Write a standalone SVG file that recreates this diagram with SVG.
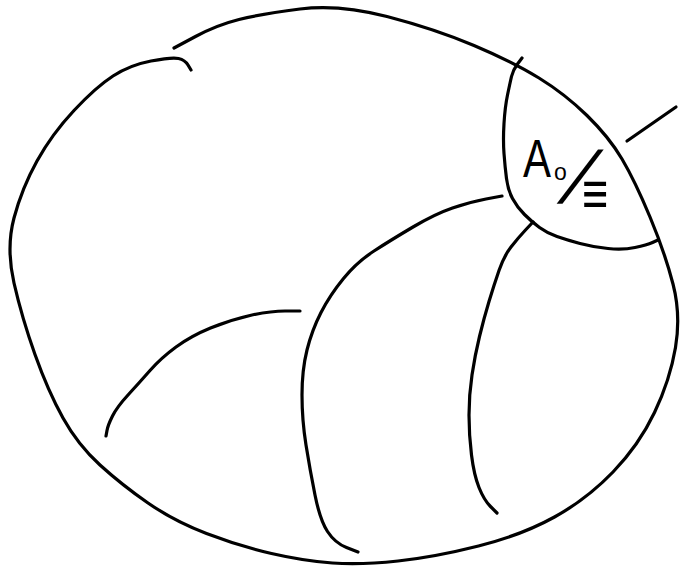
<svg xmlns="http://www.w3.org/2000/svg" width="682" height="567" viewBox="0 0 682 567">
<style>
.s{fill:none;stroke:#000;stroke-width:3.2;stroke-linecap:round;stroke-linejoin:round}
.t{fill:#000;font-family:"Liberation Sans",Arial,sans-serif}
</style>
<rect width="682" height="567" fill="#fff"/>
<g id="outline">
<path class="s" d="M191,70 L188,65 Q185,60 178.5,58.5 Q172,57 151,61 Q130,65 113,76 Q96,87 74,110.5 Q52,134 37,161 Q22,188 14,218 Q6,248 14,283 Q22,318 35,354.5 Q48,391 63,418 Q78,445 100,465 Q122,485 148,503 Q174,521 206.5,533.5 Q239,546 271.5,553.5 Q304,561 332.5,563 Q361,565 398,561 Q435,557 478.5,546 Q522,535 554.5,517 Q587,499 613,472 Q639,445 654.5,412.5 Q670,380 675.5,347.5 Q681,315 673,284 Q665,253 650,217 Q635,181 622,159 Q609,137 587,115.5 Q565,94 539,78 Q513,62 474,45.5 Q435,29 387,16.5 Q339,4 300,9 Q261,14 239,19.5 Q217,25 195.5,36.5 L174,48"/>
<path class="s" d="M627,141 L676,107"/>
</g>
<g id="lobe">
<path class="s" d="M522,58 L517.5,64 Q513,70 511.5,76.5 Q510,83 507.5,95 Q505,107 504,123.5 Q503,140 504,153.5 Q505,167 506.5,178.5 Q508,190 512.5,198.5 Q517,207 524.5,214.5 Q532,222 539.5,227.5 Q547,233 557,236.5 Q567,240 580,243.5 Q593,247 608,248.5 Q623,250 635,247.5 Q647,245 652.5,242.5 L658,240"/>
</g>
<g id="curves">
<path class="s" d="M502,196 L486,199 Q470,202 452.5,208 Q435,214 413,227 Q391,240 374,251 Q357,262 343.5,278.5 Q330,295 321,312.5 Q312,330 307,350 Q302,370 302,395 Q302,420 306,445 Q310,470 315,495 Q320,520 327.5,531.5 Q335,543 346.5,547.5 L358,552"/>
<path class="s" d="M533,222 L525.5,230 Q518,238 511,247 Q504,256 499,270.5 Q494,285 489,301.5 Q484,318 479.5,336.5 Q475,355 472,375 Q469,395 469,415 Q469,435 471.5,455 Q474,475 479,487.5 Q484,500 490.5,506.5 L497,513"/>
<path class="s" d="M300,311 L285,311 Q270,311 250,315.5 Q230,320 210.5,328 Q191,336 176,347 Q161,358 150,370.5 Q139,383 128,395 Q117,407 112.5,416 Q108,425 107,430.5 L106,436"/>
</g>
<g id="label">
<text class="t" x="523" y="177" font-size="54" textLength="28" lengthAdjust="spacingAndGlyphs">A</text>
<text class="t" x="554" y="180" font-size="23">o</text>
<text class="t" transform="translate(557,203) skewX(-26)" x="0" y="0" font-size="74">/</text>
<text class="t" transform="translate(582,214) scale(0.75,1)" x="0" y="0" font-size="60" font-family="DejaVu Sans,sans-serif">≡</text>
</g>
</svg>
